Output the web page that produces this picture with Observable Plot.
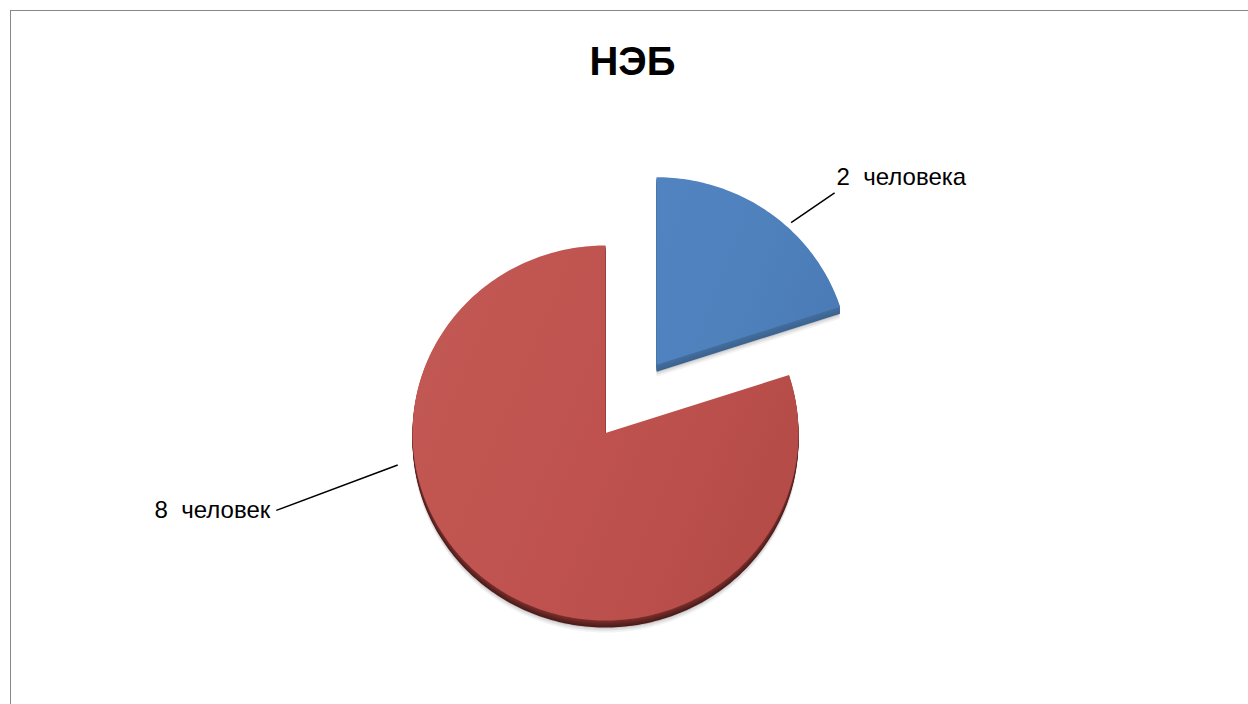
<!DOCTYPE html>
<html><head><meta charset="utf-8">
<script src="https://cdn.jsdelivr.net/npm/d3@7"></script>
<script src="https://cdn.jsdelivr.net/npm/@observablehq/plot@0.6"></script>
<style>
html,body{margin:0;padding:0;background:#fff;}
#wrap{position:relative;width:1248px;height:704px;overflow:hidden;}
#frame{position:absolute;left:10px;top:10px;width:1400px;height:900px;border:1.5px solid #878787;box-sizing:border-box;pointer-events:none;}
svg{display:block;}
</style></head>
<body><div id="wrap"><div id="chart"></div><div id="frame"></div></div>
<script>
// ---- data ----
const title = "НЭБ";
const values = [2, 8];
const units = ["человека", "человек"];
const topColors = ["#4f81bd", "#bf524e"];
const topColorsLight = ["#5083c0", "#c25853"];
const topColorsDark = ["#4a7bb6", "#b44b47"];
const sideColorsTop = ["#44709f", "#7e312e"];
const sideColorsBottom = ["#3c6390", "#4c1c1a"];

// ---- layout ----
const explode = [0.45, 0];
const thickness = 7;
// leader lines: [angle deg clockwise from top, radius] for start and end
const leaders = [
  {a0: 42.6, r0: 1.03, a1: 45.2, r1: 1.30, anchor: "start", dx: 2, dy: -16},
  {a0: 261, r0: 1.09, a1: 256.4, r1: 1.755, anchor: "end", dx: -6, dy: 0}
];

const rad = d => d * Math.PI / 180;
const arcs = d3.pie().sort(null).startAngle(0).endAngle(2 * Math.PI)(values);

const slices = arcs.map((arc, i) => {
  const mid = (arc.startAngle + arc.endAngle) / 2;
  const cx = explode[i] * Math.sin(mid), cy = explode[i] * Math.cos(mid);
  const n = Math.max(8, Math.round((arc.endAngle - arc.startAngle) / (2 * Math.PI) * 360));
  const pts = [{x: cx, y: cy}];
  for (let k = 0; k <= n; k++) {
    const a = arc.startAngle + (arc.endAngle - arc.startAngle) * k / n;
    pts.push({x: cx + Math.sin(a), y: cy + Math.cos(a)});
  }
  pts.push({x: cx, y: cy});
  return {i, cx, cy, pts};
});

const marks = [];
slices.forEach(s => {
  // soft shadow
  [12, 10, 8].forEach((t, k) => {
    marks.push(Plot.line(s.pts, {x: "x", y: "y", fill: "#000", fillOpacity: 0.05 + 0.03 * k, stroke: "none", dy: t}));
  });
  const ci = d3.interpolateRgb(sideColorsTop[s.i], sideColorsBottom[s.i]);
  for (let t = thickness; t >= 1; t--) {
    marks.push(Plot.line(s.pts, {x: "x", y: "y", fill: ci(t / thickness), stroke: "none", dy: t}));
  }
  marks.push(Plot.line(s.pts, {x: "x", y: "y", fill: `url(#grad${s.i})`, stroke: "none"}));
});

const leaderData = slices.map(s => {
  const L = leaders[s.i];
  return {
    x1: s.cx + L.r0 * Math.sin(rad(L.a0)), y1: s.cy + L.r0 * Math.cos(rad(L.a0)),
    x2: s.cx + L.r1 * Math.sin(rad(L.a1)), y2: s.cy + L.r1 * Math.cos(rad(L.a1)),
    label: `${values[s.i]}  ${units[s.i]}`, anchor: L.anchor, dx: L.dx, dy: L.dy
  };
});

marks.push(Plot.link(leaderData, {x1: "x1", y1: "y1", x2: "x2", y2: "y2", stroke: "#000", strokeWidth: 1.5}));
leaderData.forEach(d => {
  marks.push(Plot.text([d], {x: "x2", y: "y2", text: "label", textAnchor: d.anchor, dx: d.dx, dy: d.dy, fontSize: 24, fill: "#000"}));
});
marks.push(Plot.text([title], {frameAnchor: "top", lineAnchor: "middle", text: d => d, dy: 62, dx: 8, fontSize: 40, fontWeight: "bold", fill: "#000"}));

const chart = Plot.plot({
  width: 1248, height: 704,
  marginTop: 0, marginRight: 0, marginBottom: 0, marginLeft: 0,
  style: {fontFamily: "'Liberation Sans', Arial, sans-serif", background: "transparent"},
  x: {domain: [-1, 1], range: [412, 798], axis: null},
  y: {domain: [-1, 1], range: [620, 245], axis: null},
  marks
});

const svgNS = "http://www.w3.org/2000/svg";
const defs = document.createElementNS(svgNS, "defs");
[0, 1].forEach(i => {
  const g = document.createElementNS(svgNS, "linearGradient");
  g.setAttribute("id", `grad${i}`);
  g.setAttribute("x1", "0"); g.setAttribute("y1", "0.3");
  g.setAttribute("x2", "1"); g.setAttribute("y2", "0.7");
  [[0, topColorsLight[i]], [0.5, topColors[i]], [1, topColorsDark[i]]].forEach(([o, c]) => {
    const st = document.createElementNS(svgNS, "stop");
    st.setAttribute("offset", o); st.setAttribute("stop-color", c);
    g.appendChild(st);
  });
  defs.appendChild(g);
});
chart.insertBefore(defs, chart.firstChild);
document.getElementById("chart").appendChild(chart);
</script>
</body></html>
